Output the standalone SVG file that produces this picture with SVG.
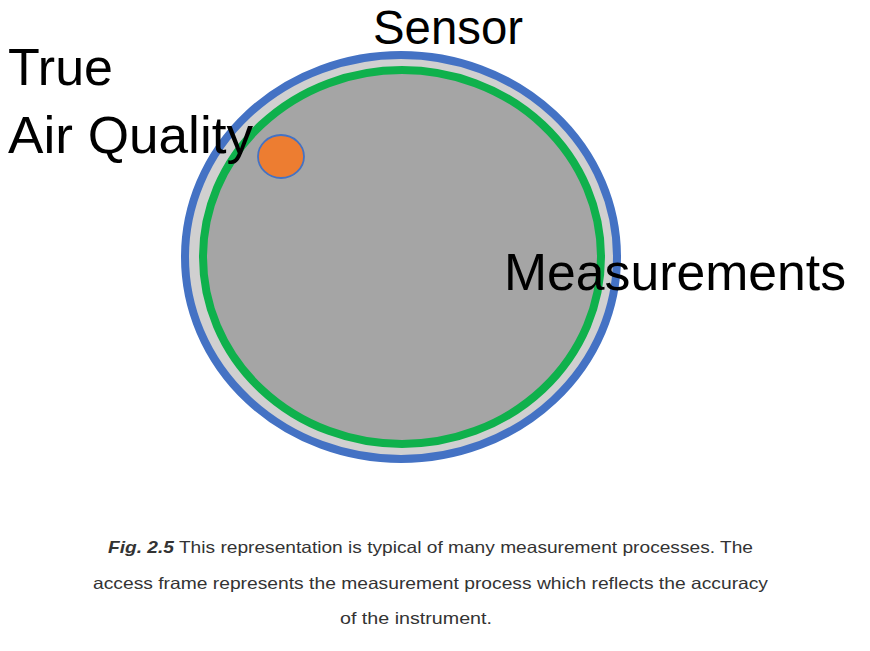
<svg xmlns="http://www.w3.org/2000/svg" width="870" height="651" viewBox="0 0 870 651">
<style>
.lbl{font-family:"Liberation Sans",Arial,sans-serif;fill:#000;}
.cap{font-family:"Liberation Sans",Arial,sans-serif;font-size:16.5px;fill:#333;}
</style>
<rect x="0" y="0" width="870" height="651" fill="#fff"/>
<g id="sensor">
<ellipse cx="401" cy="257" rx="216" ry="202" fill="#d0d0d0" stroke="#4472c4" stroke-width="8"/>
</g>
<g id="measurements">
<ellipse cx="402" cy="257" rx="199" ry="187" fill="#a5a5a5" stroke="#0fb14c" stroke-width="8"/>
</g>
<g id="true-air-quality">
<ellipse cx="281" cy="156.5" rx="23" ry="21.5" fill="#ed7d31" stroke="#4472c4" stroke-width="1.8"/>
</g>
<g id="labels">
<text class="lbl" x="373" y="44" font-size="48" textLength="150" lengthAdjust="spacingAndGlyphs">Sensor</text>
<text class="lbl" x="8" y="85" font-size="52">True</text>
<text class="lbl" x="8" y="153" font-size="52" textLength="245" lengthAdjust="spacingAndGlyphs">Air Quality</text>
<text class="lbl" x="504" y="290" font-size="52" textLength="342" lengthAdjust="spacingAndGlyphs">Measurements</text>
</g>
<g id="caption">
<text class="cap" x="108" y="553" textLength="645" lengthAdjust="spacingAndGlyphs"><tspan font-weight="bold" font-style="italic">Fig. 2.5</tspan> This representation is typical of many measurement processes. The</text>
<text class="cap" x="93" y="589" textLength="675" lengthAdjust="spacingAndGlyphs">access frame represents the measurement process which reflects the accuracy</text>
<text class="cap" x="340" y="624" textLength="152" lengthAdjust="spacingAndGlyphs">of the instrument.</text>
</g>
</svg>
